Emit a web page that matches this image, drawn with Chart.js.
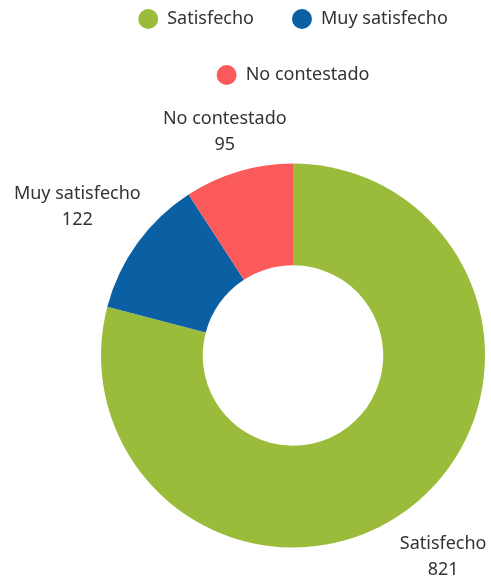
<!DOCTYPE html>
<html>
<head>
<meta charset="utf-8">
<script src="https://cdn.jsdelivr.net/npm/chart.js@4"></script>
<style>
  html, body { margin: 0; padding: 0; background: #fff; }
</style>
</head>
<body>
<canvas id="satisfaccion" width="491" height="577"></canvas>
<script>
// datos
var categorias = ['Satisfecho', 'Muy satisfecho', 'No contestado'];
var respuestas = [821, 122, 95];
var colores = ['#9bbb3b', '#0b5fa3', '#fa5a5a'];

var fuente = '"Noto Sans", sans-serif';
var colorTexto = '#333333';

// etiquetas fuera de cada porción (nombre + valor)
var etiquetasPorcion = {
  id: 'etiquetasPorcion',
  afterDatasetsDraw: function(chart) {
    var ctx = chart.ctx;
    var meta = chart.getDatasetMeta(0);
    var salto = 26;
    ctx.save();
    ctx.font = '18px ' + fuente;
    ctx.fillStyle = colorTexto;
    ctx.textAlign = 'center';
    ctx.textBaseline = 'middle';
    meta.data.forEach(function(arc, i) {
      var p = arc.getProps(['x', 'y', 'startAngle', 'endAngle', 'outerRadius'], true);
      var medio = (p.startAngle + p.endAngle) / 2;
      var dx = Math.cos(medio), dy = Math.sin(medio);
      var lineas = [categorias[i], String(respuestas[i])];
      var w = Math.max(ctx.measureText(lineas[0]).width, ctx.measureText(lineas[1]).width);
      var h = 44;
      var dist = p.outerRadius + 10 + Math.abs(dx) * w / 2 + Math.abs(dy) * h / 2;
      var cx = p.x + dx * dist, cy = p.y + dy * dist + 7;
      ctx.fillText(lineas[0], cx, cy - salto / 2);
      ctx.fillText(lineas[1], cx, cy + salto / 2);
    });
    ctx.restore();
  }
};

// espacio extra debajo de la leyenda
var espacioLeyenda = {
  id: 'espacioLeyenda',
  afterInit: function(chart) {
    var fitOriginal = chart.legend.fit;
    chart.legend.fit = function() {
      fitOriginal.call(this);
      this.height += 40;
    };
  }
};

var grafico = new Chart(document.getElementById('satisfaccion'), {
  type: 'doughnut',
  data: {
    labels: categorias,
    datasets: [{
      data: respuestas,
      backgroundColor: colores,
      borderWidth: 0
    }]
  },
  options: {
    responsive: false,
    animation: false,
    radius: 192,
    cutout: '47%',
    layout: {
      padding: { left: 95, right: 0, top: -28, bottom: 0 }
    },
    plugins: {
      legend: {
        position: 'top',
        labels: {
          usePointStyle: true,
          pointStyle: 'circle',
          boxHeight: 14,
          pointStyleWidth: 20,
          padding: 38,
          color: colorTexto,
          font: { family: fuente, size: 18 }
        }
      },
      tooltip: { enabled: false }
    }
  },
  plugins: [etiquetasPorcion, espacioLeyenda]
});
</script>
</body>
</html>
